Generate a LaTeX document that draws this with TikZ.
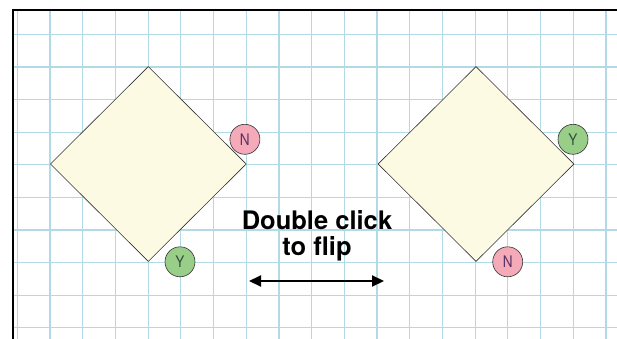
\documentclass[tikz,border=0pt]{standalone}
\usepackage{fontspec}
\setmainfont{TeX Gyre Heros}
\usetikzlibrary{shapes.geometric,arrows.meta}
\definecolor{gridblue}{RGB}{178,218,230}
\definecolor{cream}{RGB}{252,250,226}
\definecolor{nopink}{RGB}{244,170,184}
\definecolor{yesgreen}{RGB}{152,206,136}
\definecolor{notext}{RGB}{90,50,100}
\definecolor{yestext}{RGB}{50,80,60}
\tikzset{
    choice/.style={diamond,draw=black!80,fill=cream,inner sep=0pt,
        minimum width=196pt,minimum height=195pt,line width=0.6pt},
    answer/.style={circle,draw=black!80,inner sep=0pt,minimum size=30pt,
        line width=0.6pt,font=\fontsize{16}{16}\selectfont},
    noball/.style={answer,fill=nopink,text=notext},
    yesball/.style={answer,fill=yesgreen,text=yestext}
}
\begin{document}
\begin{tikzpicture}[x=1pt,y=-1pt]
    \useasboundingbox (0,0) rectangle (617,339);
    % grid paper
    \begin{scope}
        \clip (13,10) rectangle (617,339);
        \foreach \x in {0,...,18}
            \draw[gridblue,line width=1.2pt] ({17.3+32.7*\x},10)--++(0,329);
        \foreach \y in {0,...,9}
            \draw[gridblue,line width=1.2pt] (13,{34.4+32.6*\y})--++(604,0);
    \end{scope}
    \draw[line width=2.4pt] (13,339)--(13,10)--(617,10);
    % the two decisions
    \node[choice] (leftdia) at (148.3,164) {};
    \node[choice] (rightdia) at (476,164) {};
    \node[noball] (leftno) at ([shift={(-1.7,-24.7)}]leftdia.east) {\scalebox{0.85}[1]{N}};
    \node[yesball] (leftyes) at ([xshift=31.7pt]leftdia.south) {\scalebox{0.85}[1]{Y}};
    \node[yesball] (rightyes) at ([shift={(-1.3,-24.7)}]rightdia.east) {\scalebox{0.85}[1]{Y}};
    \node[noball] (rightno) at ([xshift=31.7pt]rightdia.south) {\scalebox{0.85}[1]{N}};
    % hint
    \node[align=center,inner sep=0pt,font=\bfseries\fontsize{25.5}{26}\selectfont]
        (hint) at (317,236) {Double click\\to flip};
    \coordinate (flipL) at (249,281);
    \coordinate (flipR) at (384,281);
    \draw[line width=2pt,{Triangle[length=12pt,width=11pt]}-{Triangle[length=12pt,width=11pt]}] (flipL)--(flipR);
\end{tikzpicture}
\end{document}
